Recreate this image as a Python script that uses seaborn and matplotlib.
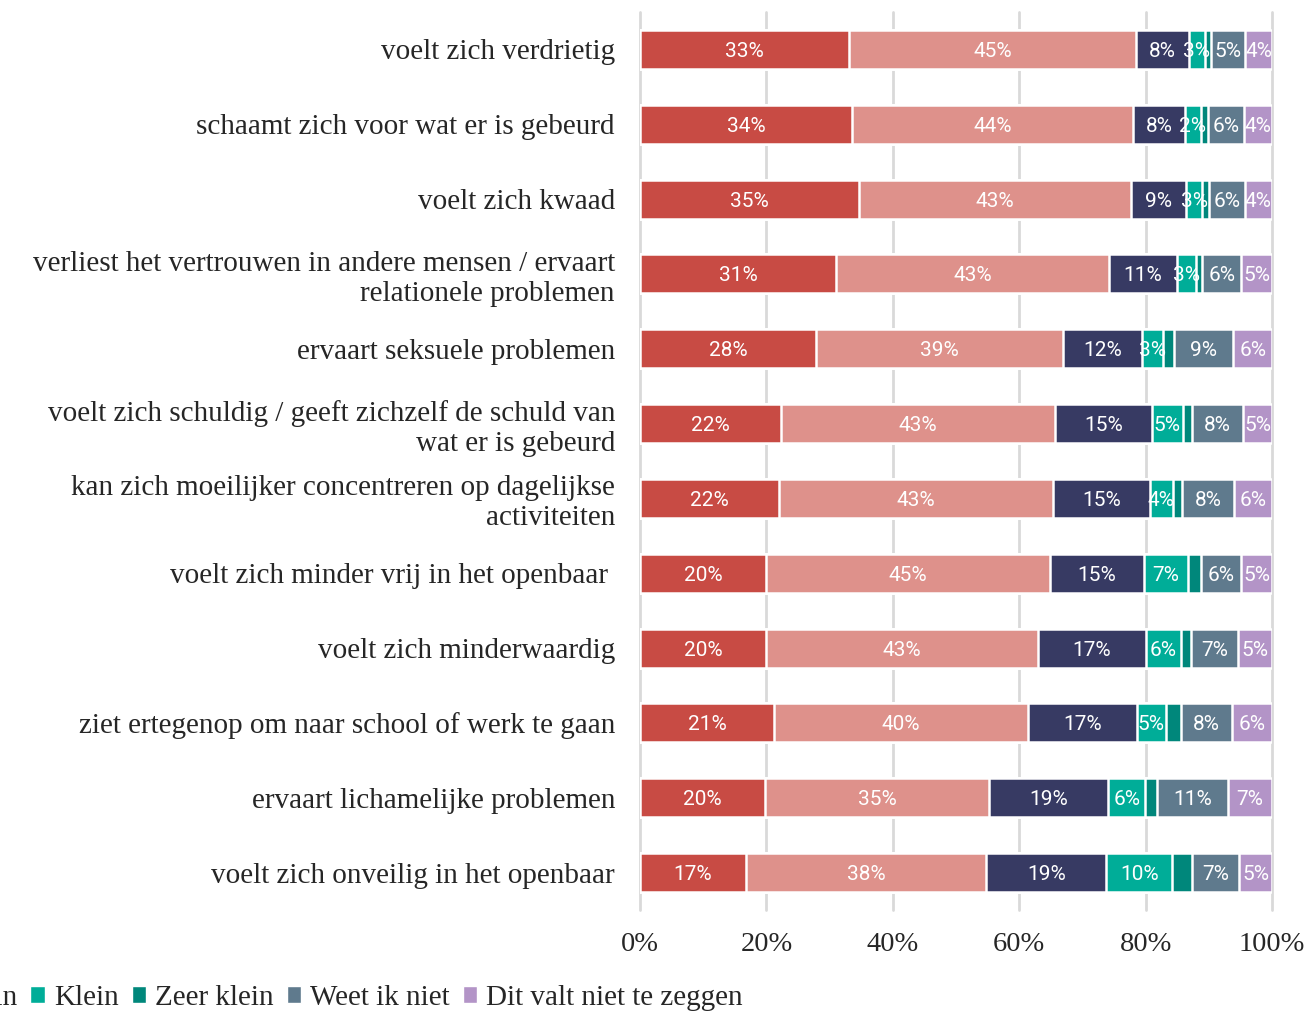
import matplotlib
matplotlib.use("Agg")
import matplotlib.pyplot as plt
from matplotlib.patches import Patch
import seaborn as sns
import pandas as pd
import numpy as np

items = [
    "voelt zich verdrietig",
    "schaamt zich voor wat er is gebeurd",
    "voelt zich kwaad",
    "verliest het vertrouwen in andere mensen / ervaart\nrelationele problemen",
    "ervaart seksuele problemen",
    "voelt zich schuldig / geeft zichzelf de schuld van\nwat er is gebeurd",
    "kan zich moeilijker concentreren op dagelijkse\nactiviteiten",
    "voelt zich minder vrij in het openbaar ",
    "voelt zich minderwaardig",
    "ziet ertegenop om naar school of werk te gaan",
    "ervaart lichamelijke problemen",
    "voelt zich onveilig in het openbaar",
]
levels = ["Zeer groot", "Groot", "Niet groot, niet klein", "Klein",
          "Zeer klein", "Weet ik niet", "Dit valt niet te zeggen"]

zeer_groot = [33.1, 33.6, 34.7, 31.0, 27.8, 22.3, 22.0, 20.0, 20.0, 21.2, 19.8, 16.8]
groot = [45.4, 44.4, 43.0, 43.2, 39.2, 43.4, 43.3, 44.8, 43.0, 40.2, 35.4, 38.0]
neutraal = [8.3, 8.3, 8.7, 10.8, 12.4, 15.3, 15.4, 15.0, 17.0, 17.2, 18.9, 19.0]
klein = [2.6, 2.4, 2.6, 2.9, 3.4, 4.9, 3.6, 6.9, 5.6, 4.6, 5.8, 10.4]
zeer_klein = [1.0, 1.2, 1.0, 1.1, 1.7, 1.4, 1.4, 2.1, 1.6, 2.4, 1.9, 3.2]
weet_niet = [5.4, 5.7, 5.7, 6.1, 9.4, 8.1, 8.3, 6.3, 7.4, 8.0, 11.2, 7.4]
niet_zeggen = [4.2, 4.4, 4.3, 4.9, 6.1, 4.6, 6.0, 4.9, 5.4, 6.4, 7.0, 5.2]

colors = ["#C84B44", "#DE918B", "#373A63", "#00AD98", "#00877B", "#5F7A8D", "#B394C7"]

df = pd.DataFrame({"item": items})
series = [zeer_groot, groot, neutraal, klein, zeer_klein, weet_niet, niet_zeggen]
for lvl, vals in zip(levels, series):
    df[lvl] = vals
cum = df[levels].cumsum(axis=1)

sns.set_style("white")
serif = ["Liberation Serif", "DejaVu Serif"]

fig = plt.figure(figsize=(13.09, 10.13), dpi=100)
ax = fig.add_axes([640 / 1309, 1 - 910 / 1013, 632 / 1309, 898 / 1013])

# stacked bars: draw cumulative totals from the longest down
for i in range(len(levels) - 1, -1, -1):
    sns.barplot(x=cum[levels[i]], y=df["item"], order=items, color=colors[i],
                orient="h", width=0.52, edgecolor="white", linewidth=1.8,
                saturation=1, ax=ax, zorder=3)

# value labels
for i, lvl in enumerate(levels):
    if lvl == "Zeer klein":
        continue
    for j in range(len(items)):
        v = df[lvl].iloc[j]
        ax.text(cum[lvl].iloc[j] - v / 2, j, f"{v:.0f}%", ha="center",
                va="center_baseline", color="white", fontsize=15, family="Roboto",
                zorder=5)

ax.set_xlim(0, 100)
ax.set_ylim(11.5, -0.5)
ax.set_xticks(np.arange(0, 101, 20))
ax.set_xticklabels([f"{t}%" for t in range(0, 101, 20)], family=serif, fontsize=20.5)
ax.tick_params(axis="x", length=0, pad=16)
ax.tick_params(axis="y", length=0, pad=18)
for lab in ax.get_yticklabels():
    lab.set_family(serif)
    lab.set_fontsize(21)
    lab.set_linespacing(1.2)
ax.set_xlabel("")
ax.set_ylabel("")
ax.xaxis.grid(True, color="#D9D9D9", linewidth=2, zorder=0)
for gl in ax.xaxis.get_gridlines():
    gl.set_clip_on(False)
ax.set_axisbelow(True)
sns.despine(ax=ax, left=True, bottom=True)

handles = [Patch(facecolor=c, edgecolor="white", label=l) for c, l in zip(colors, levels)]
fig.legend(handles=handles, loc="center right", bbox_to_anchor=(769 / 1309, 1 - 998 / 1013),
           ncol=7, frameon=False, prop={"family": serif, "size": 21},
           handlelength=0.5, handleheight=0.5, handletextpad=0.3, columnspacing=0.45)

fig.savefig("out.png", dpi=100)
